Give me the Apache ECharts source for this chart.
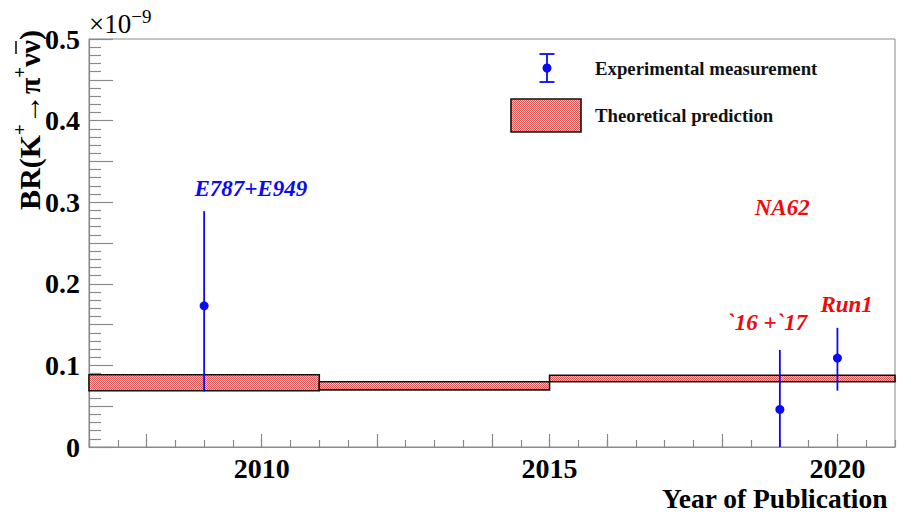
<!DOCTYPE html>
<html>
<head>
<meta charset="utf-8">
<script src="https://cdn.jsdelivr.net/npm/echarts@6/dist/echarts.min.js"></script>
<style>
html,body{margin:0;padding:0;background:#fff;}
#c{width:897px;height:513px;}
</style>
</head>
<body>
<div id="c"></div>
<script>
// ---- data ----
const expNames = ['E787+E949', '`16 +`17', 'Run1'];
const expYear = [2009, 2019, 2020];
const expValue = [0.173, 0.046, 0.109];
const expLow = [0.068, 0.0, 0.069];
const expHigh = [0.289, 0.119, 0.146];

const thStart = [2007, 2011, 2015];
const thEnd = [2011, 2015, 2021];
const thLow = [0.069, 0.070, 0.080];
const thHigh = [0.0886, 0.080, 0.088];

const yLabelValues = [0, 0.1, 0.2, 0.3, 0.4, 0.5];
const xLabelValues = [2010, 2015, 2020];
const xMajorTicks = [2008, 2010, 2012, 2014, 2015, 2016, 2018, 2020];

const annText = ['E787+E949', 'NA62', '`16 +`17', 'Run1'];
const annX = [2009.81, 2019.04, 2018.78, 2020.16];
const annY = [0.317, 0.293, 0.152, 0.175];
const annGroup = ['BNL', 'NA62', 'NA62', 'NA62'];

// ---- styling ----
const SERIF = "'Liberation Serif', 'DejaVu Serif', serif";
const BLUE = '#0a0af5';
const RED = '#f00a0a';
const AXIS = '#8a8a8a';

// pattern for theory band
const pc = document.createElement('canvas');
pc.width = 2; pc.height = 2;
const pctx = pc.getContext('2d');
pctx.fillStyle = '#f9d2d2'; pctx.fillRect(0, 0, 2, 2);
pctx.fillStyle = '#e65454'; pctx.fillRect(0, 0, 1, 1); pctx.fillRect(1, 1, 1, 1);
const patternURL = pc.toDataURL();
const bandFill = { image: patternURL, repeat: 'repeat' };

const chart = echarts.init(document.getElementById('c'), null, { renderer: 'svg' });

const bandData = thStart.map((s, i) => [s, thEnd[i], thLow[i], thHigh[i]]);
const errData = expYear.map((x, i) => [x, expLow[i], expHigh[i]]);
const ptData = expYear.map((x, i) => ({ name: expNames[i], value: [x, expValue[i]] }));
const annData = annText.map((t, i) => ({
  name: t, value: [annX[i], annY[i]],
  label: { color: annGroup[i] === 'BNL' ? BLUE : RED }
}));

const option = {
  animation: false,
  backgroundColor: '#fff',
  grid: { left: 89, right: 2, top: 39, bottom: 66, show: true, borderColor: AXIS, borderWidth: 1, backgroundColor: 'transparent' },
  xAxis: [{
    type: 'value', min: 2007, max: 2021, interval: 0.5, position: 'bottom',
    axisLine: { show: true, onZero: false, lineStyle: { color: AXIS, width: 1.2 } },
    axisTick: { show: true, inside: true, length: 7, lineStyle: { color: AXIS, width: 1.2 } },
    splitLine: { show: false },
    axisLabel: {
      customValues: xLabelValues, margin: 7,
      fontFamily: SERIF, fontWeight: 'bold', fontSize: 28, color: '#000',
      formatter: v => String(Math.round(v))
    }
  }, {
    type: 'value', min: 2007, max: 2021, interval: 0.5, position: 'bottom',
    axisLine: { show: false },
    axisTick: { show: true, inside: true, length: 13, customValues: xMajorTicks, lineStyle: { color: AXIS, width: 1.2 } },
    splitLine: { show: false },
    axisLabel: { show: false }
  }],
  yAxis: [{
    type: 'value', min: 0, max: 0.5, interval: 0.05,
    axisLine: { show: true, onZero: false, lineStyle: { color: AXIS, width: 1.2 } },
    axisTick: { show: true, inside: true, length: 24, lineStyle: { color: AXIS, width: 1.2 } },
    minorTick: { show: true, splitNumber: 5, length: 12, lineStyle: { color: AXIS, width: 1.2 } },
    splitLine: { show: false },
    minorSplitLine: { show: false },
    axisLabel: {
      customValues: yLabelValues, margin: 9,
      fontFamily: SERIF, fontWeight: 'bold', fontSize: 28, color: '#000',
      formatter: v => String(+v.toFixed(1))
    }
  }],
  series: [{
    type: 'custom', name: 'Theoretical prediction',
    data: bandData,
    encode: { x: [0, 1], y: [2, 3] },
    renderItem: (params, api) => {
      const p0 = api.coord([api.value(0), api.value(3)]);
      const p1 = api.coord([api.value(1), api.value(2)]);
      return {
        type: 'rect',
        shape: { x: p0[0], y: p0[1], width: p1[0] - p0[0], height: p1[1] - p0[1] },
        style: { fill: bandFill, stroke: '#111', lineWidth: 1.6 }
      };
    },
    z: 2
  }, {
    type: 'custom', name: 'Experimental measurement errors',
    data: errData,
    encode: { x: 0, y: [1, 2] },
    renderItem: (params, api) => {
      const a = api.coord([api.value(0), api.value(1)]);
      const b = api.coord([api.value(0), api.value(2)]);
      return {
        type: 'line',
        shape: { x1: a[0], y1: a[1], x2: b[0], y2: b[1] },
        style: { stroke: BLUE, lineWidth: 1.8 }
      };
    },
    z: 3
  }, {
    type: 'scatter', name: 'Experimental measurement',
    data: ptData, symbol: 'circle', symbolSize: 9,
    itemStyle: { color: BLUE, opacity: 1 },
    z: 4
  }, {
    type: 'scatter', name: 'annotations',
    data: annData, symbolSize: 0, silent: true,
    itemStyle: { opacity: 1 },
    label: {
      show: true, position: 'inside', formatter: p => p.name, opacity: 1,
      fontFamily: SERIF, fontWeight: 'bold', fontStyle: 'italic', fontSize: 23
    },
    z: 5
  }],
  graphic: [
    // exponent
    {
      type: 'text', x: 89, y: 37,
      style: {
        text: '{a|×10}{s|−9}',
        verticalAlign: 'bottom',
        rich: {
          a: { fontFamily: SERIF, fontSize: 27, fill: '#000', verticalAlign: 'bottom', lineHeight: 30 },
          s: { fontFamily: SERIF, fontSize: 19, fill: '#000', verticalAlign: 'top', lineHeight: 30 }
        }
      }
    },
    // y axis title
    {
      type: 'text', x: 27, y: 30, rotation: Math.PI / 2,
      style: {
        text: '{a|BR(K}{s|+}{a|→π}{s|+}{a|νν)}',
        align: 'right', verticalAlign: 'middle',
        rich: {
          a: { fontFamily: SERIF, fontWeight: 'bold', fontSize: 30, fill: '#000', lineHeight: 34, verticalAlign: 'bottom' },
          s: { fontFamily: SERIF, fontWeight: 'bold', fontSize: 19, fill: '#000', lineHeight: 34, verticalAlign: 'top' }
        }
      }
    },
    // bar over anti-neutrino
    { type: 'line', shape: { x1: 16, y1: 41, x2: 16, y2: 54 }, style: { stroke: '#000', lineWidth: 1.5 } },
    // x axis title
    {
      type: 'text', right: 9, top: 484,
      style: { text: 'Year of Publication', fontFamily: SERIF, fontWeight: 'bold', fontSize: 27.5, fill: '#000' }
    },
    // legend: error bar icon
    { type: 'line', shape: { x1: 547, y1: 54, x2: 547, y2: 82 }, style: { stroke: BLUE, lineWidth: 1.8 } },
    { type: 'line', shape: { x1: 539.5, y1: 54, x2: 554.5, y2: 54 }, style: { stroke: BLUE, lineWidth: 1.8 } },
    { type: 'line', shape: { x1: 539.5, y1: 82, x2: 554.5, y2: 82 }, style: { stroke: BLUE, lineWidth: 1.8 } },
    { type: 'circle', shape: { cx: 547, cy: 68, r: 4.5 }, style: { fill: BLUE } },
    {
      type: 'text', x: 595, y: 68,
      style: { text: 'Experimental measurement', fontFamily: SERIF, fontWeight: 'bold', fontSize: 18.8, fill: '#111', verticalAlign: 'middle' }
    },
    // legend: band box
    { type: 'rect', shape: { x: 511, y: 99, width: 70, height: 33 }, style: { fill: bandFill, stroke: '#111', lineWidth: 1.6 } },
    {
      type: 'text', x: 595, y: 115,
      style: { text: 'Theoretical prediction', fontFamily: SERIF, fontWeight: 'bold', fontSize: 18.8, fill: '#111', verticalAlign: 'middle' }
    }
  ]
};
chart.setOption(option);
</script>
</body>
</html>
